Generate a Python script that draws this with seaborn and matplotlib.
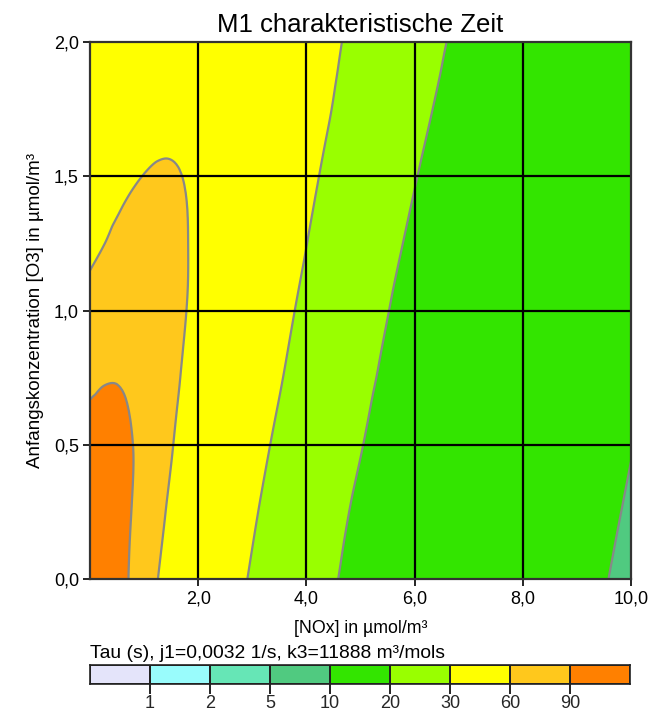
import numpy as np
import matplotlib
matplotlib.use("Agg")
import matplotlib.pyplot as plt
import matplotlib.tri as mtri
from matplotlib.colors import ListedColormap
import seaborn as sns

# ---------------- data ----------------
nox = [0, 0.25, 0.5, 0.75, 1.0, 1.25, 1.5, 1.75, 2.0, 2.5, 3.0, 4.0, 5.0, 6.0, 7.0, 8.0, 9.0, 10.0]
o3 = [0.0, 0.25, 0.5, 0.75, 1.0, 1.25, 1.5, 1.75, 2.0]

tau_o3_000 = [309, 166.4, 113.8, 86.8, 71.0, 60.2, 52.1, 46.1, 41.3, 34.2, 29.2, 22.6, 18.5, 15.6, 13.5, 11.9, 10.62, 9.6]
tau_o3_025 = [162.3, 138.5, 111.9, 91.0, 76.05, 65.2, 56.8, 50.1, 44.7, 36.6, 31.0, 23.7, 19.2, 16.1, 13.9, 12.2, 10.9, 9.82]
tau_o3_050 = [110.1, 111.2, 103.9, 92.2, 80.2, 69.9, 61.2, 54.1, 48.3, 39.45, 33.2, 25.1, 20.2, 16.8, 14.4, 12.6, 11.2, 10.06]
tau_o3_075 = [83.3, 87.6, 88.6, 85.7, 79.7, 72.2, 64.7, 57.9, 52.0, 42.55, 35.7, 26.7, 21.2, 17.6, 15.0, 13.0, 11.5, 10.3]
tau_o3_100 = [67.0, 72.3, 76.1, 77.4, 75.9, 71.9, 66.5, 60.75, 55.1, 45.5, 38.1, 28.3, 22.3, 18.3, 15.5, 13.4, 11.85, 10.6]
tau_o3_125 = [56.1, 59.6, 64.0, 67.2, 68.6, 67.8, 65.0, 61.0, 57.0, 48.2, 40.7, 30.1, 23.5, 19.2, 16.2, 14.0, 12.3, 10.95]
tau_o3_150 = [48.2, 51.2, 54.6, 57.9, 60.3, 61.5, 61.3, 59.6, 56.9, 49.9, 42.9, 31.9, 24.9, 20.2, 16.9, 14.5, 12.7, 11.3]
tau_o3_175 = [42.2, 45.1, 48.0, 50.7, 53.1, 54.9, 55.8, 55.8, 54.7, 50.3, 44.4, 33.8, 26.4, 21.3, 17.8, 15.2, 13.3, 11.8]
tau_o3_200 = [37.6, 39.9, 42.3, 44.6, 46.9, 48.8, 50.2, 51.0, 51.1, 49.1, 44.9, 35.3, 27.7, 22.4, 18.6, 15.9, 13.8, 12.2]

level_bounds = [1, 2, 5, 10, 20, 30, 60, 90]
level_labels = ["1", "2", "5", "10", "20", "30", "60", "90"]
band_colors = ["#e4e4fa", "#99fcfc", "#66e6b6", "#50ca80", "#33e500", "#99ff00",
               "#ffff00", "#ffc81c", "#ff8000"]

x_ticks = [2, 4, 6, 8, 10]
x_ticklabels = ["2,0", "4,0", "6,0", "8,0", "10,0"]
y_ticks = [0.0, 0.5, 1.0, 1.5, 2.0]
y_ticklabels = ["0,0", "0,5", "1,0", "1,5", "2,0"]

title = "M1 charakteristische Zeit"
xlabel = "[NOx] in µmol/m³"
ylabel = "Anfangskonzentration [O3] in µmol/m³"
cbar_title = "Tau (s), j1=0,0032 1/s, k3=11888 m³/mols"

# ---------------- style ----------------
sns.set_style("white")
plt.rcParams["font.family"] = ["Liberation Sans", "DejaVu Sans"]
plt.rcParams["axes.unicode_minus"] = False

W, H = 651, 713
fig = plt.figure(figsize=(W / 100, H / 100), dpi=100)
fig.patch.set_facecolor("white")

# main axes: x 90..631 px, y 42..579 px
ax = fig.add_axes([90 / W, 1 - 579 / H, (631 - 90) / W, (579 - 42) / H])

tau = np.array([tau_o3_000, tau_o3_025, tau_o3_050, tau_o3_075, tau_o3_100,
                tau_o3_125, tau_o3_150, tau_o3_175, tau_o3_200], dtype=float)
X, Y = np.meshgrid(np.array(nox), np.array(o3))
rate = 1.0 / tau  # contour in the inverse time, which varies nearly linearly

# smooth contour rendering through matplotlib's triangulation refiner
tri = mtri.Triangulation(X.ravel(), Y.ravel())
interp = mtri.CubicTriInterpolator(tri, rate.ravel(), kind="geom")
refiner = mtri.UniformTriRefiner(tri)
tri_f, rate_f = refiner.refine_field(rate.ravel(), triinterpolator=interp, subdiv=3)

rate_levels = sorted([0.0] + [1.0 / b for b in level_bounds] + [1e6])
fill_colors = band_colors[::-1]  # small rate = long time (orange) first
ax.tricontourf(tri_f, rate_f, levels=rate_levels, colors=fill_colors, antialiased=True)
ax.tricontour(tri_f, rate_f, levels=sorted(1.0 / b for b in level_bounds),
              colors="#888888", linewidths=1.6)

ax.set_xlim(0, 10)
ax.set_ylim(0, 2)
for gx in [2, 4, 6, 8]:
    ax.axvline(gx, color="black", lw=1.6, zorder=5)
for gy in [0.5, 1.0, 1.5]:
    ax.axhline(gy, color="black", lw=1.6, zorder=5)

ax.set_xticks(x_ticks)
ax.set_xticklabels(x_ticklabels)
ax.set_yticks(y_ticks)
ax.set_yticklabels(y_ticklabels)
ax.tick_params(axis="both", direction="out", length=5, width=1.2, color="black",
               labelsize=13, labelcolor="black", pad=3,
               bottom=True, left=True)
for sp in ax.spines.values():
    sp.set_visible(True)
    sp.set_color("#333333")
    sp.set_linewidth(1.6)
    sp.set_zorder(6)

ax.set_xlabel(xlabel, fontsize=12.8, labelpad=9, color="black")
ax.set_ylabel(ylabel, fontsize=13.5, labelpad=7, color="black")
ax.set_title(title, fontsize=18.5, pad=7, color="black")

# ---------------- colour legend bar (seaborn heatmap) ----------------
cax = fig.add_axes([90 / W, 1 - 684 / H, 540 / W, 19 / H])
sns.heatmap(np.arange(len(band_colors)).reshape(1, -1), ax=cax,
            cmap=ListedColormap(band_colors), cbar=False,
            linewidths=1.2, linecolor="#222222",
            xticklabels=False, yticklabels=False)
for sp in cax.spines.values():
    sp.set_visible(True)
    sp.set_color("#222222")
    sp.set_linewidth(1.2)
cax.set_xticks(np.arange(1, len(level_bounds) + 1))
cax.set_xticklabels(level_labels)
cax.set_yticks([])
cax.tick_params(axis="x", bottom=True, direction="out", length=7, width=1.2,
                color="black", labelsize=13, pad=1)
fig.text(90 / W, 1 - 653 / H, cbar_title, ha="left", va="center",
         fontsize=13.9, color="black")

fig.savefig("out.png", dpi=100)
